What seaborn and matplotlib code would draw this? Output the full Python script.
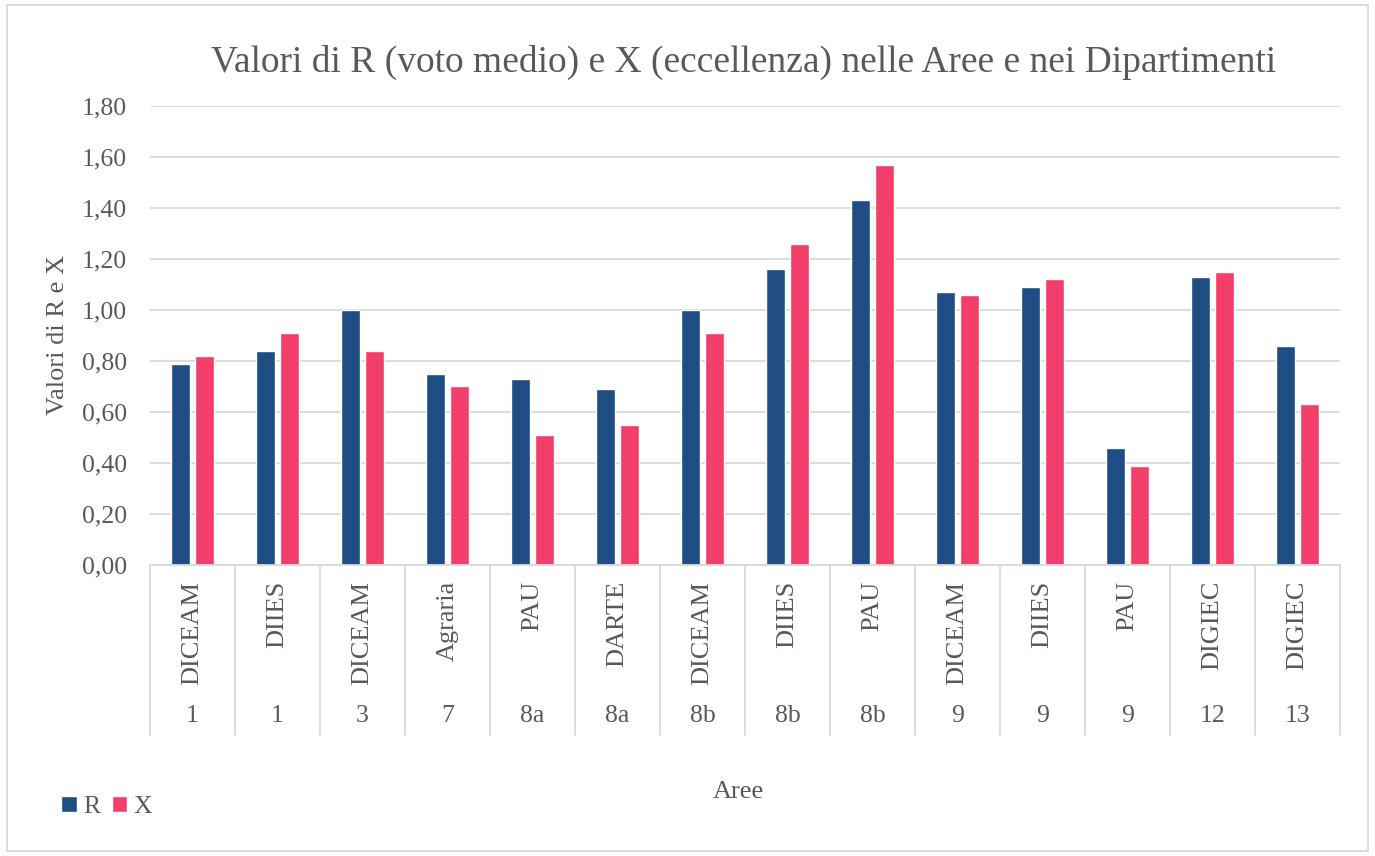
import pandas as pd
import seaborn as sns
import matplotlib.pyplot as plt
from matplotlib.patches import Rectangle

# dati
dipartimenti = ["DICEAM", "DIIES", "DICEAM", "Agraria", "PAU", "DARTE", "DICEAM",
                "DIIES", "PAU", "DICEAM", "DIIES", "PAU", "DIGIEC", "DIGIEC"]
aree = ["1", "1", "3", "7", "8a", "8a", "8b", "8b", "8b", "9", "9", "9", "12", "13"]
valori_R = [0.79, 0.84, 1.00, 0.75, 0.73, 0.69, 1.00, 1.16, 1.43, 1.07, 1.09, 0.46, 1.13, 0.86]
valori_X = [0.82, 0.91, 0.84, 0.70, 0.51, 0.55, 0.91, 1.26, 1.57, 1.06, 1.12, 0.39, 1.15, 0.63]
yticks = [0.0, 0.2, 0.4, 0.6, 0.8, 1.0, 1.2, 1.4, 1.6, 1.8]

n = len(dipartimenti)
tabela = pd.DataFrame({
    "pos": list(range(n)) * 2,
    "valore": valori_R + valori_X,
    "serie": ["R"] * n + ["X"] * n,
})

sns.set_style("white")
plt.rcParams["font.family"] = ["Liberation Serif", "DejaVu Serif"]
grigio = "#595959"

fig = plt.figure(figsize=(13.75, 8.56), dpi=100)
ax = fig.add_axes([150 / 1375, 1 - 565 / 856, 1190 / 1375, 459 / 856])

sns.barplot(data=tabela, x="pos", y="valore", hue="serie",
            palette={"R": "#1F4E85", "X": "#F23E6B"},
            width=0.565, gap=0.21, ax=ax, saturation=1)

ax.set_ylim(0, 1.8)
ax.set_xlim(-0.5, n - 0.5)
ax.set_yticks(yticks)
ax.set_yticklabels([f"{v:.2f}".replace(".", ",") for v in yticks], fontsize=18.5, color=grigio)
ax.tick_params(axis="y", length=0, pad=16.5)
ax.set_xticks([])
ax.set_xlabel("")
ax.set_ylabel("")
ax.yaxis.grid(True, color="#D9D9D9", linewidth=1.3)
ax.set_axisbelow(True)
for s in ["left", "right", "top"]:
    ax.spines[s].set_visible(False)
ax.spines["bottom"].set_color("#D9D9D9")
ax.spines["bottom"].set_linewidth(1.3)

# asse a due livelli: dipartimento e area
trans = ax.get_xaxis_transform()
for i in range(n):
    ax.text(i, -0.034, dipartimenti[i], rotation=90, ha="center", va="top",
            fontsize=19, color=grigio, transform=trans)
    ax.text(i, -0.33, aree[i], ha="center", va="center",
            fontsize=18.5, color=grigio, transform=trans)
for i in range(n + 1):
    ax.plot([i - 0.5, i - 0.5], [0, -0.37], color="#D9D9D9", linewidth=1.3,
            transform=trans, clip_on=False)

fig.text(58 / 1375, 1 - 335 / 856, "Valori di R e X", rotation=90, ha="center", va="center",
         fontsize=19, color=grigio)
fig.text(738 / 1375, 1 - 792 / 856, "Aree", ha="center", va="center", fontsize=19, color=grigio)
fig.text(744 / 1375, 1 - 62 / 856, "Valori di R (voto medio) e X (eccellenza) nelle Aree e nei Dipartimenti",
         ha="center", va="center", fontsize=27, color=grigio)

handles, labels = ax.get_legend_handles_labels()
ax.legend_.remove()
fig.legend(handles, labels, loc="center left", bbox_to_anchor=(38 / 1375, 1 - 807 / 856),
           ncol=2, frameon=False, fontsize=18.5, handlelength=0.6, handleheight=0.6,
           handletextpad=0.25, columnspacing=0.45, labelcolor=grigio)

fig.patches.append(Rectangle((7 / 1375, 5 / 856), 1361 / 1375, 846 / 856, transform=fig.transFigure,
                             fill=False, edgecolor="#D9D9D9", linewidth=1.3))

fig.savefig("out.png", dpi=100)
